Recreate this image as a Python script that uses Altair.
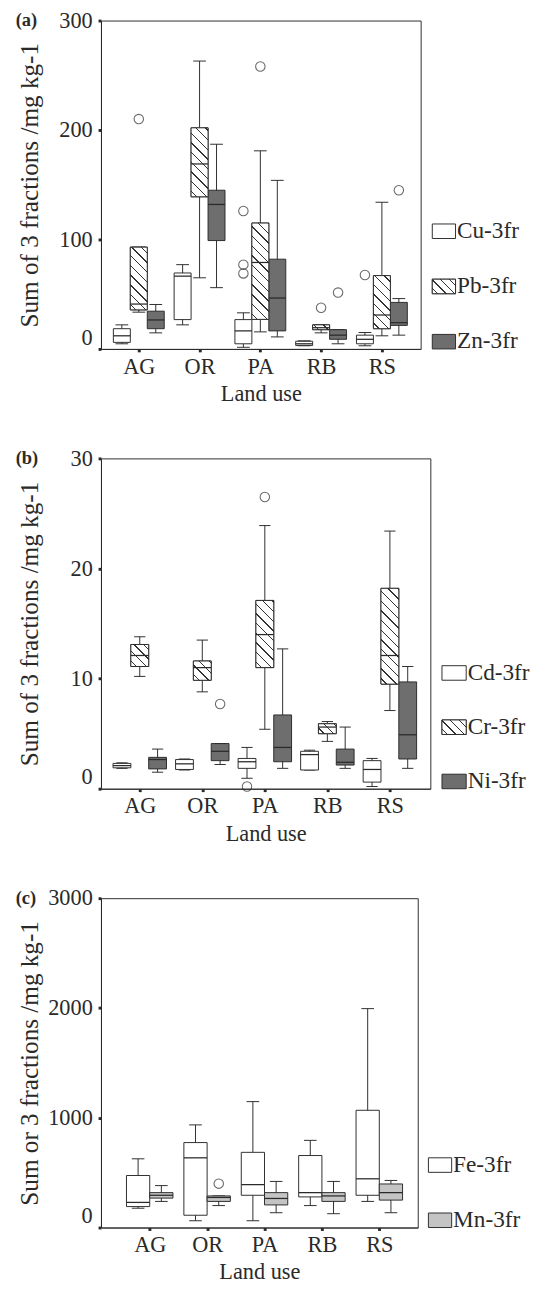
import altair as alt
import pandas as pd

FONT = "Liberation Serif"
INK = "#2a2a2a"

LANDS = ["AG", "OR", "PA", "RB", "RS"]

# ---------------- Panel (a) ----------------
A_SERIES = ["Cu-3fr", "Pb-3fr", "Zn-3fr"]
A_CU_LO = [4.7, 22, 1.5, 2.9, 2.9]
A_CU_Q1 = [6, 26.8, 4.7, 3.2, 4.7]
A_CU_MED = [12, 66.5, 16.5, 4.7, 8.8]
A_CU_Q3 = [18.5, 69.4, 26.8, 7.0, 12.6]
A_CU_HI = [22, 77, 33, 7.4, 15]
A_PB_LO = [33.6, 65, 15.6, 14.7, 12]
A_PB_Q1 = [35.7, 139, 27, 17.6, 18.5]
A_PB_MED = [41, 169, 79, 19.4, 31]
A_PB_Q3 = [93, 202, 115, 22, 67]
A_PB_HI = [93, 263, 181, 22, 134]
A_ZN_LO = [14.7, 56, 11, 4.7, 12.6]
A_ZN_Q1 = [18.5, 99, 16.5, 8.8, 21.5]
A_ZN_MED = [26.5, 132, 46.5, 12.6, 24]
A_ZN_Q3 = [34.5, 145, 82, 17.6, 42.5]
A_ZN_HI = [40.6, 187, 154, 17.6, 46]
A_OUT_LAND = ["PA", "PA", "PA", "RS", "AG", "PA", "RB", "RB", "RS"]
A_OUT_SERIES = ["Cu-3fr", "Cu-3fr", "Cu-3fr", "Cu-3fr", "Pb-3fr", "Pb-3fr", "Pb-3fr", "Zn-3fr", "Zn-3fr"]
A_OUT_VALUE = [126, 77, 69, 67.6, 210, 258, 37.6, 51.5, 145]

# ---------------- Panel (b) ----------------
B_SERIES = ["Cd-3fr", "Cr-3fr", "Ni-3fr"]
B_CD_LO = [1.85, 1.7, 0.95, 1.7, 0.2]
B_CD_Q1 = [1.9, 1.75, 1.85, 1.7, 0.6]
B_CD_MED = [2.1, 2.26, 2.45, 3.1, 1.75]
B_CD_Q3 = [2.3, 2.65, 2.75, 3.4, 2.55]
B_CD_HI = [2.35, 2.7, 3.75, 3.5, 2.75]
B_CR_LO = [10.2, 8.8, 5.4, 4.3, 7.1]
B_CR_Q1 = [11.1, 9.85, 11, 5.0, 9.5]
B_CR_MED = [12.1, 11, 14, 5.6, 12.1]
B_CR_Q3 = [13.1, 11.6, 17.1, 5.9, 18.2]
B_CR_HI = [13.8, 13.5, 23.9, 6.1, 23.4]
B_NI_LO = [1.5, 2.2, 1.85, 1.85, 1.85]
B_NI_Q1 = [1.8, 2.55, 2.45, 2.15, 2.7]
B_NI_MED = [2.65, 3.4, 3.75, 2.4, 4.9]
B_NI_Q3 = [2.85, 4.1, 6.7, 3.6, 9.7]
B_NI_HI = [3.6, 4.1, 12.7, 5.6, 11.1]
B_OUT_LAND = ["OR", "PA", "PA"]
B_OUT_SERIES = ["Ni-3fr", "Cd-3fr", "Cr-3fr"]
B_OUT_VALUE = [7.7, 0.2, 26.5]

# ---------------- Panel (c) ----------------
C_SERIES = ["Fe-3fr", "Mn-3fr"]
C_FE_LO = [176, 62, 62, 200, 238]
C_FE_Q1 = [191, 112, 294, 279, 294]
C_FE_MED = [229, 635, 391, 318, 444]
C_FE_Q3 = [474, 774, 685, 656, 1068]
C_FE_HI = [626, 935, 1147, 794, 1994]
C_MN_LO = [238, 200, 135, 126, 135]
C_MN_Q1 = [268, 238, 206, 238, 250]
C_MN_MED = [294, 274, 265, 288, 318]
C_MN_Q3 = [318, 288, 318, 318, 397]
C_MN_HI = [382, 288, 420, 420, 429]
C_OUT_LAND = ["OR"]
C_OUT_SERIES = ["Mn-3fr"]
C_OUT_VALUE = [400]

# box fills (hatched series get a white base, hatching drawn on top)
ALL_SERIES = A_SERIES + B_SERIES + C_SERIES
ALL_FILLS = ["white", "white", "#6e6e6e", "white", "white", "#6e6e6e", "white", "#c4c4c4"]
FILL_SCALE = alt.Scale(domain=ALL_SERIES, range=ALL_FILLS)


def stats_frame(series, blocks):
    rows = []
    for s, (lo, q1, med, q3, hi) in zip(series, blocks):
        for i, land in enumerate(LANDS):
            rows.append(dict(land=land, series=s, lo=lo[i], q1=q1[i], med=med[i], q3=q3[i], hi=hi[i]))
    return pd.DataFrame(rows)


def out_frame(lands, series, values):
    return pd.DataFrame({"land": lands, "series": series, "value": values})


def hatch(w, h, period=10.0, thick=1.4, ink="#333333"):
    """Diagonal '\\' hatching as a linear gradient in the box's bounding-box units."""
    total = w + h
    lam = (w + h) / (w * w + h * h)
    stops = [{"offset": 0, "color": "white"}]
    s = -h + period * 0.6
    while s < w:
        a = max(0.0, (s - thick / 2 + h) / total)
        b = min(1.0, (s + thick / 2 + h) / total)
        stops += [
            {"offset": round(a, 5), "color": "white"},
            {"offset": round(a, 5), "color": ink},
            {"offset": round(b, 5), "color": ink},
            {"offset": round(b, 5), "color": "white"},
        ]
        s += period
    stops.append({"offset": 1, "color": "white"})
    return {"gradient": "linear", "x1": 0, "y1": 1, "x2": lam * w, "y2": 1 - lam * h, "stops": stops}


def panel(label, ytitle, ymax, yvals, series, hatched, df, out_df,
          W, H, xdom, box, cap, ytitle_pad, legend_w, legend_gap, legend_step):
    n = len(series)
    px_unit = W / (xdom[1] - xdom[0])
    lands_js = "[" + ",".join(f"'{v}'" for v in LANDS) + "]"
    series_js = "[" + ",".join(f"'{v}'" for v in series) + "]"
    calc = dict(
        gi=f"indexof({lands_js}, datum.land)",
        si=f"indexof({series_js}, datum.series)",
        xc=f"datum.gi + (datum.si - {(n - 1) / 2}) * {box}",
        x0=f"datum.xc - {box / 2}",
        x1=f"datum.xc + {box / 2}",
        c0=f"datum.xc - {cap / 2}",
        c1=f"datum.xc + {cap / 2}",
    )

    def xenc(field):
        return alt.X(f"{field}:Q", title="Land use",
                     scale=alt.Scale(domain=list(xdom), nice=False, zero=False),
                     axis=alt.Axis(values=[0, 1, 2, 3, 4], labelExpr=f"{lands_js}[datum.value]",
                                   labelFontSize=23, titleFontSize=23, tickSize=3, tickWidth=3,
                                   labelPadding=4, titlePadding=5, labelFlush=False))

    def yenc(field):
        return alt.Y(f"{field}:Q", title=ytitle,
                     scale=alt.Scale(domain=[0, ymax], nice=False, zero=True),
                     axis=alt.Axis(values=yvals, format="d", labelFontSize=23, titleFontSize=26,
                                   tickSize=3, tickWidth=3, labelPadding=6, titlePadding=ytitle_pad,
                                   labelBaseline={"condition": {"test": "datum.value === 0", "value": "bottom"},
                                                  "value": "middle"}))

    fill = alt.Fill("series:N", scale=FILL_SCALE, legend=None)
    base = alt.Chart(df).transform_calculate(**calc)
    layers = [
        base.mark_rule(color=INK, strokeWidth=1).encode(x=xenc("xc"), y=yenc("lo"), y2="hi"),
        base.mark_rule(color=INK, strokeWidth=1).encode(x=xenc("c0"), x2="c1", y=yenc("lo")),
        base.mark_rule(color=INK, strokeWidth=1).encode(x=xenc("c0"), x2="c1", y=yenc("hi")),
        base.mark_rect(stroke=INK, strokeWidth=1).encode(x=xenc("x0"), x2="x1", y=yenc("q1"), y2="q3",
                                                         fill=fill),
    ]
    for s in hatched:
        sub = df[df.series == s]
        for _, r in sub.iterrows():
            h = (r.q3 - r.q1) / ymax * H
            layers.append(
                base.transform_filter(f"datum.land == '{r.land}' && datum.series == '{s}'")
                .mark_rect(fill=hatch(box * px_unit, h), stroke=INK, strokeWidth=1)
                .encode(x=xenc("x0"), x2="x1", y=yenc("q1"), y2="q3"))
    layers.append(base.mark_rule(color=INK, strokeWidth=1.3).encode(x=xenc("x0"), x2="x1", y=yenc("med")))
    layers.append(
        alt.Chart(out_df).transform_calculate(**calc)
        .mark_point(shape="circle", filled=False, size=95, color=INK, strokeWidth=1.1)
        .encode(x=xenc("xc"), y=yenc("value")))
    # panel letter, level with the top tick label
    layers.append(
        alt.Chart(pd.DataFrame({"panel": [label]}))
        .mark_text(font=FONT, fontSize=19, fontWeight="bold", color=INK, align="left", baseline="middle")
        .encode(text="panel:N", x=alt.value(-88), y=alt.value(0)))

    plot = alt.layer(*layers).properties(width=W, height=H)

    # legend drawn as a small chart of swatches, labels on its right axis
    sw_h = 15
    leg_pi = 1 - sw_h / legend_step
    r1 = H
    r0 = r1 - sw_h - (n - 1) * legend_step
    leg_df = pd.DataFrame({"series": series, "one": [1] * n})
    yl = alt.Y("series:N", sort=series,
               scale=alt.Scale(type="band", paddingInner=leg_pi, paddingOuter=0, range=[r0, r1]),
               axis=alt.Axis(orient="right", title=None, ticks=False, domain=False, labelPadding=1,
                             labelFontSize=24, labelColor=INK, labelFont=FONT))
    xl = alt.X("one:Q", scale=alt.Scale(domain=[0, 1]), axis=None)
    lbase = alt.Chart(leg_df).encode(y=yl, x=xl)
    leg_layers = [lbase.mark_bar(stroke=INK, strokeWidth=1).encode(fill=fill)]
    for s in hatched:
        leg_layers.append(lbase.transform_filter(f"datum.series == '{s}'")
                          .mark_bar(fill=hatch(legend_w, sw_h, period=9), stroke=INK, strokeWidth=1))
    legend = alt.layer(*leg_layers).properties(width=legend_w, height=H, view=alt.ViewBackground(stroke=None))

    return alt.hconcat(plot, legend, spacing=legend_gap)


df_a = stats_frame(A_SERIES, [
    (A_CU_LO, A_CU_Q1, A_CU_MED, A_CU_Q3, A_CU_HI),
    (A_PB_LO, A_PB_Q1, A_PB_MED, A_PB_Q3, A_PB_HI),
    (A_ZN_LO, A_ZN_Q1, A_ZN_MED, A_ZN_Q3, A_ZN_HI)])
df_b = stats_frame(B_SERIES, [
    (B_CD_LO, B_CD_Q1, B_CD_MED, B_CD_Q3, B_CD_HI),
    (B_CR_LO, B_CR_Q1, B_CR_MED, B_CR_Q3, B_CR_HI),
    (B_NI_LO, B_NI_Q1, B_NI_MED, B_NI_Q3, B_NI_HI)])
df_c = stats_frame(C_SERIES, [
    (C_FE_LO, C_FE_Q1, C_FE_MED, C_FE_Q3, C_FE_HI),
    (C_MN_LO, C_MN_Q1, C_MN_MED, C_MN_Q3, C_MN_HI)])

pa = panel("(a)", "Sum of 3 fractions /mg kg-1", 300, [0, 100, 200, 300], A_SERIES,
           ["Pb-3fr"], df_a, out_frame(A_OUT_LAND, A_OUT_SERIES, A_OUT_VALUE),
           W=330, H=339, xdom=(-0.622, 4.638), box=0.279, cap=0.21, ytitle_pad=17,
           legend_w=24, legend_gap=10, legend_step=57)
pb = panel("(b)", "Sum of 3 fractions /mg kg-1", 30, [0, 10, 20, 30], B_SERIES,
           ["Cr-3fr"], df_b, out_frame(B_OUT_LAND, B_OUT_SERIES, B_OUT_VALUE),
           W=340, H=341, xdom=(-0.62, 4.647), box=0.285, cap=0.18, ytitle_pad=29,
           legend_w=25, legend_gap=10, legend_step=56)
pc = panel("(c)", "Sum or 3 fractions /mg kg-1", 3000, [0, 1000, 2000, 3000], C_SERIES,
           [], df_c, out_frame(C_OUT_LAND, C_OUT_SERIES, C_OUT_VALUE),
           W=327, H=340, xdom=(-0.849, 4.67), box=0.405, cap=0.22, ytitle_pad=6,
           legend_w=24, legend_gap=9, legend_step=57)

chart = alt.concat(pa, pb, pc, columns=1, align="none", spacing=42).properties(
    padding={"left": 7, "top": -20, "right": 5, "bottom": 0}
).configure_view(stroke=INK, strokeWidth=1).configure_axis(
    labelFont=FONT, titleFont=FONT, labelColor=INK, titleColor=INK, titleFontWeight="normal",
    domainColor=INK, tickColor=INK, grid=False)

chart.save("out.html", embed_options={"renderer": "svg", "actions": False})
